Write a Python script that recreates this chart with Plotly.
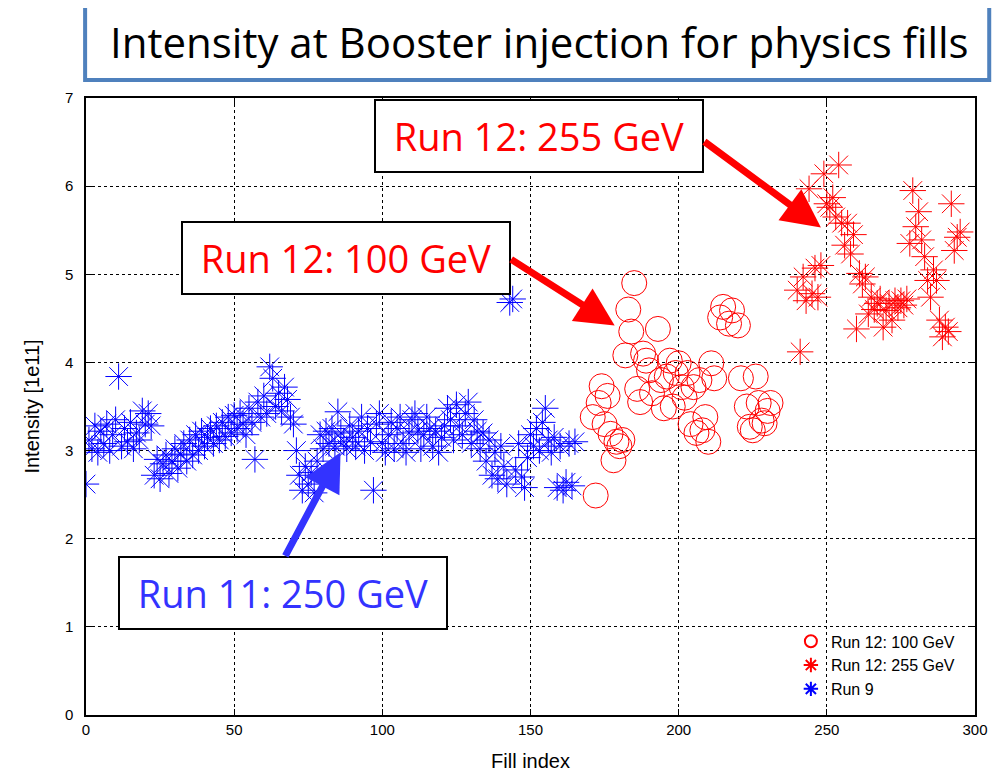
import plotly.graph_objects as go

# Run 9 (blue asterisks): one value per fill index
run9_x = list(range(166))
run9_y = [2.62, 3.12, 3.02, 3.28, 2.98, 3.22, 3.08, 3.30, 3.00, 3.18, 3.35,
          3.84, 3.05, 3.25, 3.10, 3.32, 3.02, 3.20, 3.12, 3.45, 3.30,
          3.42, 3.28, 2.72, 2.90, 2.68, 2.85, 2.95, 2.74, 2.88, 3.02,
          2.80, 2.96, 3.08, 2.88, 3.12, 2.95, 3.18, 3.00, 3.22, 3.05,
          3.15, 3.25, 3.08, 3.28, 3.12, 3.32, 3.16, 3.38, 3.20, 3.40,
          3.25, 3.42, 3.30, 3.18, 3.48, 3.32, 2.90, 3.55, 3.38, 3.62,
          3.42, 3.95, 3.82, 3.50, 3.65, 3.45, 3.72, 3.58, 3.38, 3.30,
          3.00, 2.72, 2.55, 2.82, 2.62, 2.75, 2.52, 2.88, 3.18, 3.02,
          3.22, 3.08, 3.25, 3.05, 3.44, 3.20, 3.10, 3.02, 3.28, 3.15,
          3.05, 3.22, 3.38, 3.00, 3.25, 3.10, 2.55, 3.30, 3.42, 3.08,
          2.98, 3.18, 3.32, 3.02, 3.25, 3.38, 3.08, 2.98, 3.20, 3.35,
          3.42, 3.22, 3.02, 3.18, 3.38, 3.25, 3.05, 3.22, 2.98, 3.15,
          3.28, 3.48, 3.35, 3.12, 3.52, 3.28, 3.18, 3.42, 3.55, 3.08,
          3.35, 3.22, 3.02, 3.20, 2.88, 3.12, 2.72, 2.98, 2.68, 3.05,
          2.82, 2.62, 4.68, 4.72, 2.78, 3.08, 2.70, 2.58, 2.92, 3.18,
          3.05, 3.25, 3.00, 3.32, 3.48, 3.12, 2.98, 3.15, 2.58, 3.05,
          2.55, 2.64, 3.08, 2.60, 3.10]

# Run 12, 100 GeV (red circles)
r100_x = [171, 172, 173, 174, 175, 176, 177, 178, 179, 180, 181, 182, 183, 184,
          185, 186, 187, 188, 189, 190, 191, 193, 194, 195, 196, 197, 198, 199,
          200, 201, 202, 203, 204, 205, 206, 207, 208, 209, 210, 211, 212, 214,
          215, 217, 218, 220, 221, 223, 224, 225, 226, 227, 228, 229, 230, 231]
r100_y = [3.38, 2.49, 3.54, 3.73, 3.30, 3.62, 3.19, 2.89, 3.10, 3.05, 3.12, 4.08,
          4.60, 4.35, 4.90, 3.70, 3.55, 4.10, 4.02, 3.91, 3.65, 4.38, 3.80, 3.48,
          3.84, 4.02, 3.50, 3.88, 3.99, 3.72, 3.60, 3.88, 3.30, 3.72, 3.20, 3.80,
          3.23, 3.38, 3.10, 3.99, 3.82, 4.51, 4.63, 4.44, 4.59, 4.42, 3.82, 3.50,
          3.27, 3.23, 3.84, 3.54, 3.34, 3.31, 3.45, 3.54]

# Run 12, 255 GeV (red asterisks)
r255_x = list(range(240, 296))
r255_y = [4.82, 4.12, 4.97, 4.70, 5.97, 4.78, 5.07, 4.74, 5.10, 6.14,
          5.80, 5.76, 5.87, 5.65, 6.24, 5.58, 5.33, 5.58, 5.23, 5.45,
          4.38, 5.01, 4.89, 4.97, 4.55, 4.74, 4.60, 4.67, 4.72, 4.40,
          4.59, 4.67, 4.48, 4.70, 4.62, 4.70, 4.65, 4.72, 5.35, 5.95,
          5.54, 5.71, 5.39, 5.20, 4.93, 4.74, 5.05, 4.93, 4.48, 4.29,
          4.40, 4.35, 5.80, 5.27, 5.42, 5.48]

fig = go.Figure()

fig.add_trace(go.Scatter(x=r100_x, y=r100_y, mode="markers", name="Run 12: 100 GeV",
                         marker=dict(symbol="circle-open", size=25, color="#FF0000",
                                     line=dict(width=1, color="#FF0000"))))
fig.add_trace(go.Scatter(x=r255_x, y=r255_y, mode="markers", name="Run 12: 255 GeV",
                         marker=dict(symbol="asterisk-open", size=22, color="#FF0000",
                                     line=dict(width=1, color="#FF0000"))))
fig.add_trace(go.Scatter(x=run9_x, y=run9_y, mode="markers", name="Run 9",
                         marker=dict(symbol="asterisk-open", size=22, color="#0000FF",
                                     line=dict(width=1, color="#0000FF"))))

axis_font = "Liberation Sans, Arial, sans-serif"
box_font = "Open Sans, sans-serif"

# page body adds an 8px offset, so the figure is 8px smaller than the window
fig.update_layout(
    width=997, height=768,
    margin=dict(l=78, r=30, t=90, b=61),
    plot_bgcolor="white", paper_bgcolor="white",
    font=dict(family=axis_font, size=15, color="black"),
    showlegend=True,
    legend=dict(x=0.983, y=0.014, xanchor="right", yanchor="bottom",
                bgcolor="rgba(0,0,0,0)", font=dict(size=16),
                itemsizing="constant", tracegroupgap=0),
)

fig.update_xaxes(range=[0, 300], dtick=50, showgrid=True, griddash="dot", gridcolor="black",
                 gridwidth=1, zeroline=False, showline=True, linecolor="black", linewidth=1.5,
                 mirror="ticks", ticks="inside", ticklen=6, tickcolor="black", automargin=False,
                 title=dict(text="Fill index", font=dict(size=20), standoff=17))
fig.update_yaxes(range=[0, 7], dtick=1, showgrid=True, griddash="dot", gridcolor="black",
                 gridwidth=1, zeroline=False, showline=True, linecolor="black", linewidth=1.5,
                 mirror="ticks", ticks="inside", ticklen=6, tickcolor="black", automargin=False,
                 ticklabelstandoff=8,
                 title=dict(text="Intensity [1e11]", font=dict(size=20), standoff=20))

# title box
fig.add_shape(type="rect", xref="paper", yref="paper", x0=-0.001, x1=1.016, y0=1.029, y1=1.151,
              line=dict(color="#4F81BD", width=4), fillcolor="white", layer="above")
fig.add_annotation(xref="paper", yref="paper", x=0.5096, y=1.091, showarrow=False,
                   xanchor="center", yanchor="middle",
                   text="Intensity at Booster injection for physics fills",
                   font=dict(family=box_font, size=42, color="black"))

# call-out boxes
boxes = [
    ("Run 12: 255 GeV", 0.5096, 0.9384, "#FF0000"),
    ("Run 12: 100 GeV", 0.2925, 0.7407, "#FF0000"),
    ("Run 11: 250 GeV", 0.2216, 0.1977, "#3333FF"),
]
for txt, bx, by, col in boxes:
    fig.add_annotation(xref="paper", yref="paper", x=bx, y=by, showarrow=False, text=txt,
                       xanchor="center", yanchor="middle",
                       width=326, height=70, bgcolor="white", bordercolor="black",
                       borderwidth=2, borderpad=0,
                       font=dict(family=box_font, size=38, color=col))

# arrows (tip in data coords, tail offset in pixels)
arrows = [
    (248.0, 5.53, -118, -87, "#FF0000"),
    (178.4, 4.42, -105, -67, "#FF0000"),
    (85.9, 2.98, -56, 105, "#3333FF"),
]
for tx, ty, ax, ay, col in arrows:
    fig.add_annotation(x=tx, y=ty, ax=ax, ay=ay, text="", showarrow=True,
                       arrowhead=2, arrowsize=1.1, arrowwidth=7, arrowcolor=col, standoff=0)

fig.write_html("out.html")
